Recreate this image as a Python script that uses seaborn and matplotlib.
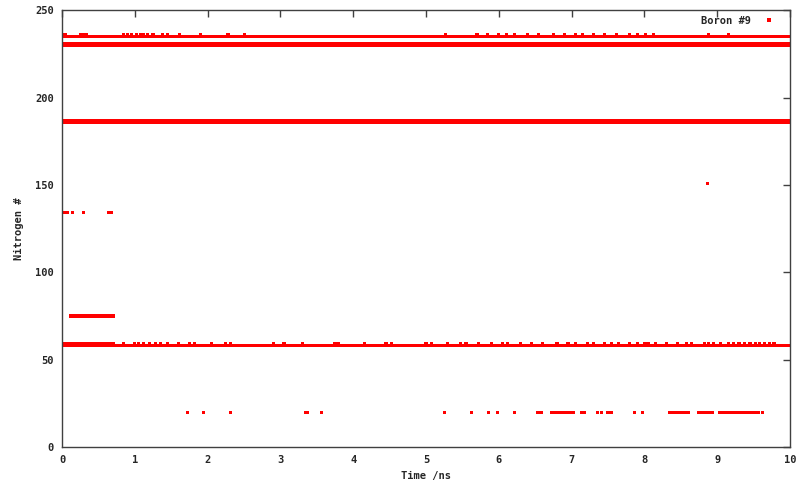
import numpy as np
import pandas as pd
import matplotlib
matplotlib.use("Agg")
import matplotlib.pyplot as plt
import seaborn as sns

# Trajectory frames (ns)
frame_times = np.round(np.arange(0, 10.0001, 0.01), 2)

# Continuous neighbour runs: (nitrogen #, start ns, end ns)
runs = [
    (235, 0.0, 10.0),
    (231, 0.0, 10.0),
    (230, 0.0, 10.0),
    (187, 0.0, 10.0),
    (186, 0.0, 10.0),
    (58, 0.0, 10.0),
    (59, 0.0, 0.70),
    (75, 0.12, 0.70),
    (134, 0.64, 0.68),
    (20, 6.53, 6.58),
    (20, 6.72, 7.02),
    (20, 7.49, 7.55),
    (20, 8.34, 8.45),
    (20, 8.48, 8.61),
    (20, 8.75, 8.84),
    (20, 8.87, 8.93),
    (20, 9.03, 9.40),
    (20, 9.43, 9.56),
]

# Isolated visits
n134_times = [0.0, 0.02, 0.05, 0.08, 0.15, 0.30]
n151_times = [8.87]
n20_times = [1.73, 1.94, 2.32, 3.34, 3.37, 3.56, 5.26, 5.62, 5.86, 5.98,
             6.21, 7.13, 7.18, 7.36, 7.41, 7.86, 7.97, 9.62]
n236_times = [0.02, 0.05, 0.26, 0.30, 0.33, 0.84, 0.90, 0.96, 1.02, 1.08,
              1.12, 1.18, 1.25, 1.38, 1.45, 1.62, 1.90, 2.28, 2.51, 5.27,
              5.70, 5.85, 6.00, 6.10, 6.22, 6.40, 6.55, 6.75, 6.90, 7.05,
              7.15, 7.30, 7.45, 7.62, 7.80, 7.90, 8.02, 8.12, 8.88, 9.15]
n59_times = [0.85, 1.0, 1.05, 1.12, 1.2, 1.28, 1.35, 1.45, 1.6, 1.75, 1.82,
             2.05, 2.25, 2.32, 2.9, 3.05, 3.3, 3.75, 3.8, 4.15, 4.45, 4.52,
             5.0, 5.08, 5.3, 5.48, 5.55, 5.72, 5.9, 6.05, 6.12, 6.3, 6.45,
             6.6, 6.8, 6.95, 7.05, 7.22, 7.3, 7.45, 7.55, 7.65, 7.8, 7.9,
             8.0, 8.05, 8.15, 8.3, 8.45, 8.58, 8.65, 8.82, 8.88, 8.95, 9.05,
             9.15, 9.22, 9.3, 9.38, 9.45, 9.52, 9.58, 9.65, 9.72, 9.78]

rows = []
for nitrogen, t0, t1 in runs:
    sel = frame_times[(frame_times >= t0 - 1e-9) & (frame_times <= t1 + 1e-9)]
    rows += [(t, nitrogen) for t in sel]
for nitrogen, times in [(134, n134_times), (151, n151_times), (20, n20_times),
                        (236, n236_times), (59, n59_times)]:
    rows += [(t, nitrogen) for t in times]
df = pd.DataFrame(rows, columns=["time", "nitrogen"])
df["label"] = "Boron #9"

sns.set_style("white")
plt.rcParams["font.family"] = ["DejaVu Sans Mono"]

fig = plt.figure(figsize=(8, 4.8), dpi=100)
ax = fig.add_axes([0.0775, 0.06875, 0.91, 0.91])

sns.scatterplot(data=df, x="time", y="nitrogen", hue="label", palette=["#ff0000"],
                marker="s", s=5, linewidth=0, ax=ax)

ax.set_xlim(0, 10)
ax.set_ylim(0, 250)
ax.set_xticks(range(0, 11))
ax.set_yticks(range(0, 251, 50))
ax.tick_params(direction="in", length=5, width=1, color="#404040",
               top=True, right=True, labelsize=7.5, pad=6)
for lab in ax.get_xticklabels() + ax.get_yticklabels():
    lab.set_fontweight("bold")
for sp in ax.spines.values():
    sp.set_color("#404040")
    sp.set_linewidth(1)

ax.set_xlabel("Time /ns", fontsize=7.5, fontweight="bold", labelpad=4)
ax.set_ylabel("Nitrogen #", fontsize=7.5, fontweight="bold", labelpad=8)

leg = ax.legend(loc="upper right", bbox_to_anchor=(0.99, 1.0), frameon=False,
                fontsize=7.5, handletextpad=1.0, markerfirst=False,
                borderaxespad=0.25, borderpad=0.3, handlelength=1.5)
for h in leg.legend_handles:
    h.set_markersize(2.5)
    h.set_markeredgewidth(0)
for t in leg.get_texts():
    t.set_fontweight("bold")

fig.savefig("out.png", dpi=100)
